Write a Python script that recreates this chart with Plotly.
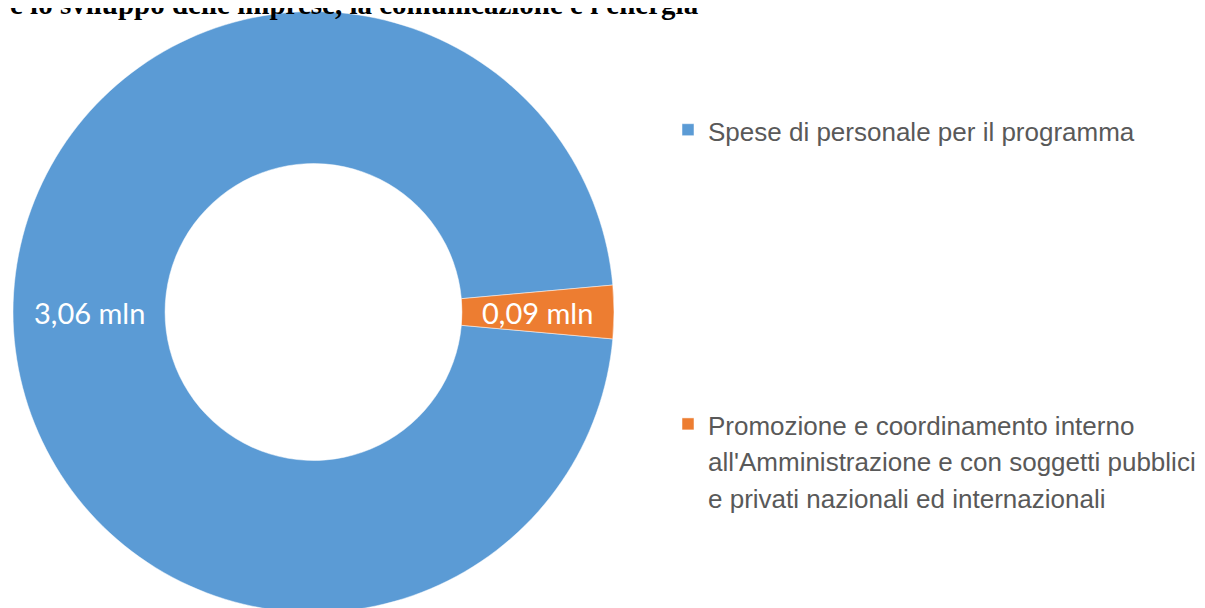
import math
import plotly.graph_objects as go

# ---- data ----
category_lines = [
    ["Spese di personale per il programma"],
    ["Promozione e coordinamento interno",
     "all'Amministrazione e con soggetti pubblici",
     "e privati nazionali ed internazionali"],
]
values = [3.06, 0.09]  # milioni di euro
colors = ["#5B9BD5", "#ED7D31"]
title_text = "e lo sviluppo delle imprese, la comunicazione e l'energia"

W, H = 1205, 608

# legend labels (text at 26px inside a 28px legend so blank lines set the gap)
def wrap(lines):
    return "<br>".join("<span style='font-size:26px'>%s</span>" % l for l in lines)

legend_labels = [wrap(category_lines[0]) + "<br>" * 7, wrap(category_lines[1])]

total = sum(values)
small_share_angle = 360 * values[1] / total
rotation = 90 + small_share_angle / 2  # centre the small slice at 3 o'clock

dom_x = [5 / W, 606 / W]
dom_y = [0, 1]
hole = 0.494

fig = go.Figure(
    go.Pie(
        labels=legend_labels,
        values=values,
        hole=hole,
        sort=False,
        direction="clockwise",
        rotation=rotation,
        marker=dict(colors=colors, line=dict(color="white", width=0.5)),
        textinfo="none",
        hovertemplate="%{value:.2f} mln<extra></extra>",
        domain=dict(x=dom_x, y=dom_y),
    )
)

# data labels at the middle of the ring, angle derived from the values
r_px = min((dom_x[1] - dom_x[0]) * W, (dom_y[1] - dom_y[0]) * H) / 2
r_mid = r_px * (1 + hole) / 2
cx = (dom_x[0] + dom_x[1]) / 2
cy = (dom_y[0] + dom_y[1]) / 2
start = rotation
for v in values:
    ang = start + 360 * v / total / 2
    start += 360 * v / total
    th = math.radians(ang)
    fig.add_annotation(
        x=cx + r_mid * math.sin(th) / W,
        y=cy + r_mid * math.cos(th) / H,
        xref="paper", yref="paper",
        text=("%.2f mln" % v).replace(".", ","),
        showarrow=False,
        font=dict(family="Lato, Open Sans, sans-serif", size=29, color="white"),
        xanchor="center", yanchor="middle",
    )

# title (only its last line is visible, cut at the top edge)
fig.add_annotation(
    x=0, y=1 + 4 / H, xref="paper", yref="paper",
    xanchor="left", yanchor="middle",
    text="<b>%s</b>" % title_text,
    showarrow=False,
    font=dict(family="Liberation Serif, Times New Roman, serif", size=29, color="black"),
)

fig.update_layout(
    width=W,
    height=H,
    margin=dict(l=0, r=0, t=0, b=0),
    paper_bgcolor="white",
    plot_bgcolor="white",
    separators=",.",
    legend=dict(
        x=660 / W,
        xanchor="left",
        y=1 - 97 / H,
        yanchor="top",
        valign="top",
        font=dict(family="Liberation Sans, Arial, sans-serif", size=28, color="#595959"),
        bgcolor="rgba(0,0,0,0)",
    ),
    showlegend=True,
)

fig.write_html("out.html")
